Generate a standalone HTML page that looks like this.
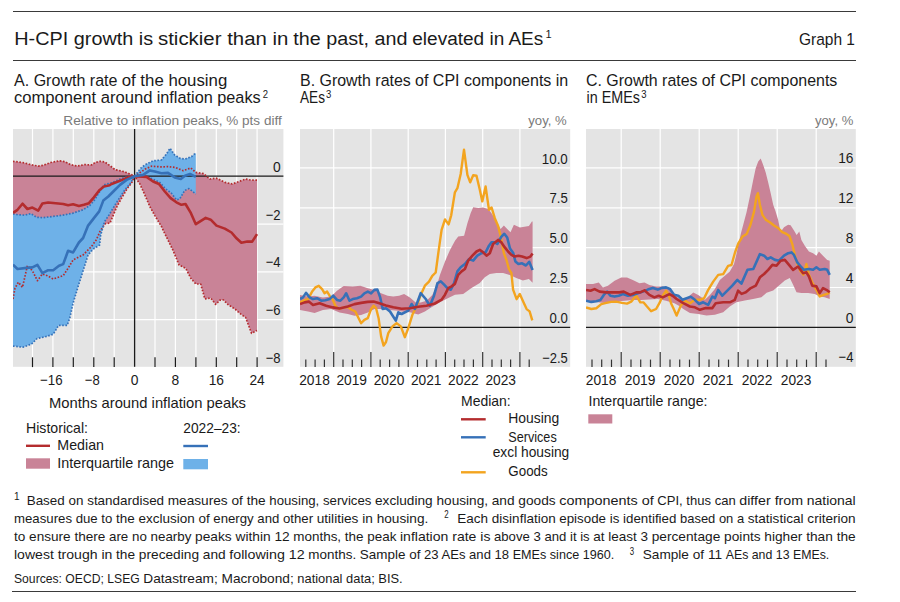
<!DOCTYPE html>
<html lang="en"><head><meta charset="utf-8"><title>Graph 1</title>
<style>html,body{margin:0;padding:0;background:#fff}svg{display:block}text{font-family:"Liberation Sans", sans-serif}</style>
</head><body>
<svg width="900" height="602" viewBox="0 0 900 602">
<rect width="900" height="602" fill="#fff"/>
<line x1="13.0" y1="11.5" x2="856.0" y2="11.5" stroke="#3a3a3a" stroke-width="1.0"/>
<line x1="13.0" y1="60.5" x2="856.0" y2="60.5" stroke="#3a3a3a" stroke-width="1.0"/>
<line x1="12.0" y1="591.5" x2="856.0" y2="591.5" stroke="#3a3a3a" stroke-width="1.0"/>
<text x="14.3" y="44.9" font-size="18.8" fill="#1a1a1a" textLength="138.8" lengthAdjust="spacingAndGlyphs">H-CPI growth is</text>
<text x="158.0" y="44.9" font-size="18.8" fill="#1a1a1a" textLength="130.4" lengthAdjust="spacingAndGlyphs">stickier than in</text>
<text x="293.3" y="44.9" font-size="18.8" fill="#1a1a1a" textLength="114.1" lengthAdjust="spacingAndGlyphs">the past, and</text>
<text x="412.3" y="44.9" font-size="18.8" fill="#1a1a1a" textLength="131.0" lengthAdjust="spacingAndGlyphs">elevated in AEs</text>
<text x="545.6" y="38.3" font-size="11" fill="#1a1a1a">1</text>
<text x="799.0" y="45.3" font-size="16.3" fill="#1a1a1a" textLength="56.0" lengthAdjust="spacingAndGlyphs">Graph 1</text>
<text x="14.0" y="85.6" font-size="16.3" fill="#1a1a1a" textLength="103.5" lengthAdjust="spacingAndGlyphs">A. Growth rate</text>
<text x="121.7" y="85.6" font-size="16.3" fill="#1a1a1a" textLength="105.6" lengthAdjust="spacingAndGlyphs">of the housing</text>
<text x="14.0" y="103.3" font-size="16.3" fill="#1a1a1a" textLength="138.5" lengthAdjust="spacingAndGlyphs">component around</text>
<text x="156.7" y="103.3" font-size="16.3" fill="#1a1a1a" textLength="104.0" lengthAdjust="spacingAndGlyphs">inflation peaks</text>
<text x="262.8" y="97.8" font-size="10.8" fill="#1a1a1a" textLength="5.3" lengthAdjust="spacingAndGlyphs">2</text>
<text x="300.0" y="85.6" font-size="16.3" fill="#1a1a1a" textLength="110.8" lengthAdjust="spacingAndGlyphs">B. Growth rates</text>
<text x="415.0" y="85.6" font-size="16.3" fill="#1a1a1a" textLength="153.3" lengthAdjust="spacingAndGlyphs">of CPI components in</text>
<text x="300.0" y="103.3" font-size="16.3" fill="#1a1a1a" textLength="25.0" lengthAdjust="spacingAndGlyphs">AEs</text>
<text x="326.0" y="97.8" font-size="10.8" fill="#1a1a1a" textLength="5.3" lengthAdjust="spacingAndGlyphs">3</text>
<text x="586.0" y="85.6" font-size="16.3" fill="#1a1a1a" textLength="111.5" lengthAdjust="spacingAndGlyphs">C. Growth rates</text>
<text x="701.7" y="85.6" font-size="16.3" fill="#1a1a1a" textLength="135.6" lengthAdjust="spacingAndGlyphs">of CPI components</text>
<text x="586.5" y="103.3" font-size="16.3" fill="#1a1a1a" textLength="53.5" lengthAdjust="spacingAndGlyphs">in EMEs</text>
<text x="641.3" y="97.8" font-size="10.8" fill="#1a1a1a" textLength="5.3" lengthAdjust="spacingAndGlyphs">3</text>
<text x="63.3" y="124.8" font-size="13" fill="#7a7a7a" textLength="115.9" lengthAdjust="spacingAndGlyphs">Relative to inflation</text>
<text x="182.7" y="124.8" font-size="13" fill="#7a7a7a" textLength="99.0" lengthAdjust="spacingAndGlyphs">peaks, % pts diff</text>
<text x="528.3" y="124.8" font-size="13" fill="#7a7a7a" textLength="38.4" lengthAdjust="spacingAndGlyphs">yoy, %</text>
<text x="815.0" y="124.8" font-size="13" fill="#7a7a7a" textLength="38.3" lengthAdjust="spacingAndGlyphs">yoy, %</text>
<rect x="13.0" y="129.0" width="270.4" height="237.8" fill="#e4e4e4"/>
<line x1="32.5" y1="129.0" x2="32.5" y2="366.8" stroke="#fff" stroke-width="1.2"/>
<line x1="52.9" y1="129.0" x2="52.9" y2="366.8" stroke="#fff" stroke-width="1.2"/>
<line x1="73.3" y1="129.0" x2="73.3" y2="366.8" stroke="#fff" stroke-width="1.2"/>
<line x1="93.8" y1="129.0" x2="93.8" y2="366.8" stroke="#fff" stroke-width="1.2"/>
<line x1="114.2" y1="129.0" x2="114.2" y2="366.8" stroke="#fff" stroke-width="1.2"/>
<line x1="155.0" y1="129.0" x2="155.0" y2="366.8" stroke="#fff" stroke-width="1.2"/>
<line x1="175.4" y1="129.0" x2="175.4" y2="366.8" stroke="#fff" stroke-width="1.2"/>
<line x1="195.9" y1="129.0" x2="195.9" y2="366.8" stroke="#fff" stroke-width="1.2"/>
<line x1="216.3" y1="129.0" x2="216.3" y2="366.8" stroke="#fff" stroke-width="1.2"/>
<line x1="236.7" y1="129.0" x2="236.7" y2="366.8" stroke="#fff" stroke-width="1.2"/>
<line x1="257.1" y1="129.0" x2="257.1" y2="366.8" stroke="#fff" stroke-width="1.2"/>
<line x1="13.0" y1="224.1" x2="283.4" y2="224.1" stroke="#fff" stroke-width="1.2"/>
<line x1="13.0" y1="271.8" x2="283.4" y2="271.8" stroke="#fff" stroke-width="1.2"/>
<line x1="13.0" y1="319.6" x2="283.4" y2="319.6" stroke="#fff" stroke-width="1.2"/>
<clipPath id="ca"><rect x="13.0" y="129.0" width="270.4" height="237.8"/></clipPath><g clip-path="url(#ca)">
<polygon points="13.0,161.3 22.5,162.5 32.4,165.0 38.2,166.1 43.2,165.3 50.7,162.5 59.8,160.8 64.8,161.6 70.6,164.6 77.3,166.1 84.7,164.6 91.4,165.0 95.0,162.6 100.0,161.3 105.0,162.1 110.0,165.7 115.0,169.6 124.0,171.6 134.6,176.0 141.0,172.0 145.3,169.0 151.5,166.2 161.4,166.9 168.0,166.6 175.0,167.4 183.3,170.7 190.8,167.9 195.8,172.4 203.2,173.5 209.9,179.0 216.5,178.2 224.8,182.3 232.3,184.0 239.0,181.5 245.6,179.0 251.4,180.2 257.0,180.2 257.0,330.4 251.5,333.3 248.8,325.9 245.6,317.5 240.6,313.9 234.8,308.9 228.2,304.7 223.2,299.8 219.9,300.2 215.7,304.4 210.7,298.1 204.9,298.9 200.7,284.0 195.8,284.0 190.8,278.2 185.8,268.4 179.2,265.1 172.5,249.2 164.6,233.2 161.4,226.4 154.8,215.6 149.8,206.4 144.8,194.8 139.9,184.0 134.6,176.2 131.5,183.2 127.4,188.2 121.6,198.1 116.6,207.3 110.0,223.0 105.0,223.9 100.0,231.4 96.4,239.7 91.4,246.6 83.1,254.9 73.1,259.9 68.1,268.2 63.2,275.7 53.2,279.0 47.4,275.7 42.4,274.0 37.4,280.7 32.4,270.7 27.4,265.7 22.5,287.3 18.3,282.3 15.0,288.2 13.0,299.0" fill="#c98397"/>
<polygon points="13.0,214.0 18.3,214.8 25.0,215.1 30.8,213.6 36.6,217.3 43.2,217.6 53.2,216.4 63.2,215.1 73.1,213.1 83.1,209.8 89.7,205.6 94.7,199.8 99.7,191.5 103.9,184.9 109.7,183.2 111.6,182.9 120.0,179.0 128.2,176.6 134.6,176.2 141.5,167.4 146.5,164.0 153.1,160.8 161.4,160.0 166.4,154.1 170.0,148.3 174.7,155.0 180.0,158.3 185.0,159.1 191.6,156.6 195.8,152.9 195.8,194.0 188.9,188.6 184.7,190.5 179.7,199.0 176.4,199.8 171.4,193.2 164.8,188.2 159.8,182.4 151.5,178.5 144.8,176.4 134.6,176.2 129.9,184.0 124.9,189.8 118.3,199.8 111.6,210.6 109.7,214.0 104.7,221.4 102.2,229.7 100.5,236.0 99.7,245.0 93.1,249.1 88.1,254.9 83.1,270.7 78.1,286.5 73.1,303.1 69.8,318.0 67.2,325.4 58.6,325.4 53.2,334.2 46.7,336.4 37.0,338.6 31.6,344.0 23.0,347.2 13.0,346.1" fill="#6eb1e8"/>
</g>
<line x1="13.0" y1="176.2" x2="283.4" y2="176.2" stroke="#1a1a1a" stroke-width="1.3"/>
<line x1="134.6" y1="129.0" x2="134.6" y2="366.8" stroke="#1a1a1a" stroke-width="1.3"/>
<g clip-path="url(#ca)">
<polyline points="13.0,161.3 22.5,162.5 32.4,165.0 38.2,166.1 43.2,165.3 50.7,162.5 59.8,160.8 64.8,161.6 70.6,164.6 77.3,166.1 84.7,164.6 91.4,165.0 95.0,162.6 100.0,161.3 105.0,162.1 110.0,165.7 115.0,169.6 124.0,171.6 134.6,176.0 141.0,172.0 145.3,169.0 151.5,166.2 161.4,166.9 168.0,166.6 175.0,167.4 183.3,170.7 190.8,167.9 195.8,172.4 203.2,173.5 209.9,179.0 216.5,178.2 224.8,182.3 232.3,184.0 239.0,181.5 245.6,179.0 251.4,180.2 257.0,180.2" fill="none" stroke="#b42c2e" stroke-width="1.7" stroke-linejoin="round" stroke-linecap="butt" stroke-dasharray="1.6 1.6"/>
<polyline points="13.0,299.0 15.0,288.2 18.3,282.3 22.5,287.3 27.4,265.7 32.4,270.7 37.4,280.7 42.4,274.0 47.4,275.7 53.2,279.0 63.2,275.7 68.1,268.2 73.1,259.9 83.1,254.9 91.4,246.6 96.4,239.7 100.0,231.4 105.0,223.9 110.0,223.0 116.6,207.3 121.6,198.1 127.4,188.2 131.5,183.2 134.6,176.2 139.9,184.0 144.8,194.8 149.8,206.4 154.8,215.6 161.4,226.4 164.6,233.2 172.5,249.2 179.2,265.1 185.8,268.4 190.8,278.2 195.8,284.0 200.7,284.0 204.9,298.9 210.7,298.1 215.7,304.4 219.9,300.2 223.2,299.8 228.2,304.7 234.8,308.9 240.6,313.9 245.6,317.5 248.8,325.9 251.5,333.3 257.0,330.4" fill="none" stroke="#b42c2e" stroke-width="1.7" stroke-linejoin="round" stroke-linecap="butt" stroke-dasharray="1.6 1.6"/>
<polyline points="13.0,214.0 18.3,214.8 25.0,215.1 30.8,213.6 36.6,217.3 43.2,217.6 53.2,216.4 63.2,215.1 73.1,213.1 83.1,209.8 89.7,205.6 94.7,199.8 99.7,191.5 103.9,184.9 109.7,183.2 111.6,182.9 120.0,179.0 128.2,176.6 134.6,176.2 141.5,167.4 146.5,164.0 153.1,160.8 161.4,160.0 166.4,154.1 170.0,148.3 174.7,155.0 180.0,158.3 185.0,159.1 191.6,156.6 195.8,152.9" fill="none" stroke="#3671b8" stroke-width="1.7" stroke-linejoin="round" stroke-linecap="butt" stroke-dasharray="1.6 1.6"/>
<polyline points="13.0,346.1 23.0,347.2 31.6,344.0 37.0,338.6 46.7,336.4 53.2,334.2 58.6,325.4 67.2,325.4 69.8,318.0 73.1,303.1 78.1,286.5 83.1,270.7 88.1,254.9 93.1,249.1 99.7,245.0 100.5,236.0 102.2,229.7 104.7,221.4 109.7,214.0 111.6,210.6 118.3,199.8 124.9,189.8 129.9,184.0 134.6,176.2 144.8,176.4 151.5,178.5 159.8,182.4 164.8,188.2 171.4,193.2 176.4,199.8 179.7,199.0 184.7,190.5 188.9,188.6 195.8,194.0" fill="none" stroke="#3671b8" stroke-width="1.7" stroke-linejoin="round" stroke-linecap="butt" stroke-dasharray="1.6 1.6"/>
<polyline points="13.0,212.8 17.5,209.8 22.5,203.7 27.4,209.0 32.4,207.6 38.2,210.6 42.4,203.5 48.2,202.5 58.2,203.5 63.2,204.0 68.1,205.3 73.1,204.3 78.9,206.0 83.9,204.8 88.9,203.2 93.9,197.3 99.7,189.9 103.9,186.5 109.7,185.2 111.6,184.0 120.0,180.7 128.2,177.4 134.6,176.2 146.5,176.9 153.1,181.5 159.0,184.0 164.8,191.5 170.6,198.1 176.4,202.3 181.4,204.8 185.5,204.0 190.5,212.3 195.8,224.2 205.7,217.9 210.7,219.7 216.5,225.6 224.8,228.6 231.5,232.5 236.5,238.3 241.4,242.8 247.3,241.6 252.2,241.6 257.0,234.1" fill="none" stroke="#b42c2e" stroke-width="2.6" stroke-linejoin="round" stroke-linecap="butt"/>
<polyline points="13.0,264.6 17.5,269.0 26.6,267.9 32.4,267.4 37.4,264.9 42.4,273.2 48.2,270.2 53.2,270.2 59.0,265.7 63.2,264.1 68.1,250.8 73.1,252.4 78.9,242.5 83.1,238.0 88.1,225.6 93.9,218.1 99.2,211.4 103.3,200.6 108.3,196.5 113.3,191.5 120.0,184.9 126.6,179.9 134.6,176.2 143.2,174.9 149.8,170.4 154.8,171.6 161.4,173.2 168.0,172.9 174.7,177.4 180.8,179.0 185.0,175.7 190.0,174.0 195.8,176.9" fill="none" stroke="#3671b8" stroke-width="2.6" stroke-linejoin="round" stroke-linecap="butt"/>
</g>
<line x1="32.5" y1="357.3" x2="32.5" y2="367.1" stroke="#1a1a1a" stroke-width="1.2"/>
<line x1="52.9" y1="357.3" x2="52.9" y2="367.1" stroke="#1a1a1a" stroke-width="1.2"/>
<line x1="73.3" y1="357.3" x2="73.3" y2="367.1" stroke="#1a1a1a" stroke-width="1.2"/>
<line x1="93.8" y1="357.3" x2="93.8" y2="367.1" stroke="#1a1a1a" stroke-width="1.2"/>
<line x1="114.2" y1="357.3" x2="114.2" y2="367.1" stroke="#1a1a1a" stroke-width="1.2"/>
<line x1="155.0" y1="357.3" x2="155.0" y2="367.1" stroke="#1a1a1a" stroke-width="1.2"/>
<line x1="175.4" y1="357.3" x2="175.4" y2="367.1" stroke="#1a1a1a" stroke-width="1.2"/>
<line x1="195.9" y1="357.3" x2="195.9" y2="367.1" stroke="#1a1a1a" stroke-width="1.2"/>
<line x1="216.3" y1="357.3" x2="216.3" y2="367.1" stroke="#1a1a1a" stroke-width="1.2"/>
<line x1="236.7" y1="357.3" x2="236.7" y2="367.1" stroke="#1a1a1a" stroke-width="1.2"/>
<line x1="257.1" y1="357.3" x2="257.1" y2="367.1" stroke="#1a1a1a" stroke-width="1.2"/>
<text x="280.6" y="171.5" font-size="15" fill="#1a1a1a" text-anchor="end" textLength="7.7" lengthAdjust="spacingAndGlyphs">0</text>
<text x="280.6" y="219.7" font-size="15" fill="#1a1a1a" text-anchor="end" textLength="14.9" lengthAdjust="spacingAndGlyphs">−2</text>
<text x="280.6" y="267.4" font-size="15" fill="#1a1a1a" text-anchor="end" textLength="14.9" lengthAdjust="spacingAndGlyphs">−4</text>
<text x="280.6" y="315.2" font-size="15" fill="#1a1a1a" text-anchor="end" textLength="14.9" lengthAdjust="spacingAndGlyphs">−6</text>
<text x="280.6" y="362.5" font-size="15" fill="#1a1a1a" text-anchor="end" textLength="14.9" lengthAdjust="spacingAndGlyphs">−8</text>
<text x="51.4" y="384.8" font-size="15" fill="#1a1a1a" text-anchor="middle" textLength="22.6" lengthAdjust="spacingAndGlyphs">−16</text>
<text x="92.3" y="384.8" font-size="15" fill="#1a1a1a" text-anchor="middle" textLength="14.9" lengthAdjust="spacingAndGlyphs">−8</text>
<text x="134.6" y="384.8" font-size="15" fill="#1a1a1a" text-anchor="middle" textLength="7.7" lengthAdjust="spacingAndGlyphs">0</text>
<text x="175.4" y="384.8" font-size="15" fill="#1a1a1a" text-anchor="middle" textLength="7.7" lengthAdjust="spacingAndGlyphs">8</text>
<text x="216.3" y="384.8" font-size="15" fill="#1a1a1a" text-anchor="middle" textLength="15.3" lengthAdjust="spacingAndGlyphs">16</text>
<text x="257.1" y="384.8" font-size="15" fill="#1a1a1a" text-anchor="middle" textLength="15.3" lengthAdjust="spacingAndGlyphs">24</text>
<text x="49.0" y="407.8" font-size="14.4" fill="#1a1a1a" textLength="197.0" lengthAdjust="spacingAndGlyphs">Months around inflation peaks</text>
<text x="26.0" y="432.7" font-size="14.4" fill="#1a1a1a" textLength="62.0" lengthAdjust="spacingAndGlyphs">Historical:</text>
<text x="183.3" y="432.7" font-size="14.4" fill="#1a1a1a" textLength="57.4" lengthAdjust="spacingAndGlyphs">2022–23:</text>
<line x1="26.0" y1="445.8" x2="50.0" y2="445.8" stroke="#b42c2e" stroke-width="2.4"/>
<text x="57.3" y="450.0" font-size="14.4" fill="#1a1a1a" textLength="46.7" lengthAdjust="spacingAndGlyphs">Median</text>
<rect x="26" y="458.3" width="24" height="10.4" fill="#c98397"/>
<text x="57.3" y="467.7" font-size="14.4" fill="#1a1a1a" textLength="116.7" lengthAdjust="spacingAndGlyphs">Interquartile range</text>
<line x1="183.3" y1="446.0" x2="208.0" y2="446.0" stroke="#3671b8" stroke-width="2.4"/>
<rect x="183.3" y="459" width="24.7" height="10.3" fill="#6eb1e8"/>
<rect x="300" y="129.0" width="270.2" height="237.8" fill="#e4e4e4"/>
<line x1="333.7" y1="129.0" x2="333.7" y2="366.8" stroke="#fff" stroke-width="1.2"/>
<line x1="370.9" y1="129.0" x2="370.9" y2="366.8" stroke="#fff" stroke-width="1.2"/>
<line x1="408.2" y1="129.0" x2="408.2" y2="366.8" stroke="#fff" stroke-width="1.2"/>
<line x1="445.4" y1="129.0" x2="445.4" y2="366.8" stroke="#fff" stroke-width="1.2"/>
<line x1="482.7" y1="129.0" x2="482.7" y2="366.8" stroke="#fff" stroke-width="1.2"/>
<line x1="519.9" y1="129.0" x2="519.9" y2="366.8" stroke="#fff" stroke-width="1.2"/>
<line x1="300.0" y1="167.9" x2="570.2" y2="167.9" stroke="#fff" stroke-width="1.2"/>
<line x1="300.0" y1="207.8" x2="570.2" y2="207.8" stroke="#fff" stroke-width="1.2"/>
<line x1="300.0" y1="247.7" x2="570.2" y2="247.7" stroke="#fff" stroke-width="1.2"/>
<line x1="300.0" y1="287.5" x2="570.2" y2="287.5" stroke="#fff" stroke-width="1.2"/>
<clipPath id="cb"><rect x="300" y="129.0" width="270.2" height="237.8"/></clipPath><g clip-path="url(#cb)">
<polygon points="300.0,294.9 308.0,296.6 314.6,295.7 322.9,297.4 331.2,296.6 337.0,290.8 343.7,286.1 352.8,286.6 360.3,285.8 367.8,288.3 374.4,289.9 381.1,293.3 387.7,295.7 393.3,296.5 399.1,295.7 404.1,294.1 409.9,297.4 415.7,302.4 420.7,302.4 426.5,300.7 432.3,294.9 436.5,286.6 440.0,274.8 445.0,261.5 450.0,249.9 455.0,240.7 458.2,236.6 464.1,235.7 467.4,223.3 470.7,213.1 473.2,207.3 478.2,208.1 483.1,207.6 488.1,208.9 491.4,213.1 496.4,221.4 500.6,228.9 503.9,225.5 507.2,228.9 510.5,232.2 513.9,224.7 519.9,227.4 528.9,225.9 531.9,221.4 532.6,221.4 532.6,282.7 528.9,279.0 522.9,280.5 516.9,278.2 509.7,275.0 503.1,273.1 496.4,273.1 489.8,273.9 484.8,277.3 479.8,283.1 471.5,288.1 463.2,293.9 455.0,294.7 448.3,298.0 440.0,302.2 431.5,307.3 424.9,311.5 418.2,314.5 409.9,312.3 401.6,311.5 398.0,310.7 389.4,309.9 381.1,309.0 374.4,309.0 367.8,312.4 361.1,314.9 354.5,315.7 347.8,314.0 339.5,312.4 331.2,309.0 322.9,309.9 314.6,312.9 308.0,311.5 300.0,309.9" fill="#c98397"/>
</g>
<line x1="300.0" y1="327.4" x2="570.2" y2="327.4" stroke="#1a1a1a" stroke-width="1.2"/>
<g clip-path="url(#cb)">
<polyline points="300.0,302.4 303.8,300.7 308.0,299.1 312.1,291.6 315.4,287.4 318.8,285.8 322.1,289.1 324.6,293.3 327.1,291.6 329.6,295.7 332.9,299.9 335.4,305.7 337.5,308.0 339.5,308.5 343.5,307.6 347.8,306.8 351.2,309.5 355.3,311.5 358.6,318.2 361.1,323.2 364.4,319.8 367.8,318.2 371.1,309.0 373.6,305.7 376.1,308.2 378.6,318.2 381.1,336.4 383.6,345.6 386.0,342.0 388.3,333.1 392.5,326.4 396.6,323.1 400.8,326.4 404.9,337.2 408.3,328.1 412.4,314.8 416.6,306.5 420.7,294.9 424.9,285.7 429.0,281.6 432.3,275.8 435.7,272.5 438.3,253.2 441.6,229.9 445.0,219.4 448.6,224.4 451.2,215.3 454.9,192.3 457.4,188.2 460.7,174.0 464.0,149.6 467.4,174.9 470.2,182.3 473.2,175.2 476.5,175.7 479.8,189.8 482.3,201.4 485.6,186.5 489.0,209.8 491.6,207.5 494.8,218.2 498.1,226.0 500.6,236.0 503.9,253.2 506.4,259.8 508.9,269.0 511.4,273.1 513.1,289.7 516.6,299.2 519.8,294.0 523.6,302.4 526.6,309.1 529.6,311.4 532.3,320.4" fill="none" stroke="#f3a41f" stroke-width="2.4" stroke-linejoin="round" stroke-linecap="butt"/>
<polyline points="300.0,299.1 303.0,297.4 306.0,292.9 309.6,297.4 313.0,299.1 317.1,298.2 321.3,300.7 325.4,300.2 329.6,299.1 333.2,295.7 337.0,299.9 340.4,300.7 343.7,297.4 346.2,293.3 349.5,300.7 352.8,299.1 357.0,298.2 361.1,296.6 364.4,293.3 367.8,291.6 371.1,293.3 374.4,289.9 377.4,289.6 380.2,297.4 382.7,309.0 386.0,308.2 390.0,311.5 395.8,320.6 398.3,312.3 401.6,314.0 408.3,310.7 411.6,304.0 414.9,309.0 420.7,293.2 425.7,299.0 429.9,305.7 434.0,295.7 437.5,283.1 440.8,281.4 444.1,284.7 447.4,288.1 450.8,289.7 454.1,283.1 457.4,271.4 460.7,267.3 464.9,264.0 469.0,259.0 473.2,260.6 477.3,255.7 481.5,253.2 485.6,252.3 489.0,245.7 491.5,242.4 494.8,242.4 497.3,244.0 501.4,236.6 504.3,233.8 507.2,237.5 510.0,248.5 513.2,253.0 515.4,261.5 518.4,264.0 522.1,263.3 525.9,265.5 529.2,261.8 532.6,270.0" fill="none" stroke="#3671b8" stroke-width="2.6" stroke-linejoin="round" stroke-linecap="butt"/>
<polyline points="300.0,304.1 304.6,302.4 308.8,301.6 313.0,304.9 319.6,303.2 326.2,305.7 332.9,307.4 339.5,308.5 347.8,306.5 354.5,304.1 361.1,302.9 367.8,301.9 373.6,301.6 379.4,303.2 386.0,305.4 393.3,307.3 401.6,308.7 409.9,308.2 418.2,306.8 426.5,305.7 434.8,303.5 441.6,299.7 445.0,294.7 448.3,288.1 451.6,286.4 454.9,283.9 458.2,274.8 461.6,271.4 464.9,269.0 468.2,260.6 472.4,255.7 476.5,251.5 479.8,249.9 483.2,252.3 486.5,255.7 489.8,253.2 493.1,244.0 498.1,239.9 501.4,242.4 504.8,247.4 508.1,251.5 511.4,254.8 514.7,256.5 518.4,255.8 522.1,256.6 526.6,258.1 530.4,256.6 532.6,253.6" fill="none" stroke="#b42c2e" stroke-width="2.6" stroke-linejoin="round" stroke-linecap="butt"/>
</g>
<line x1="305.8" y1="359.6" x2="305.8" y2="367.0" stroke="#333" stroke-width="1.2"/>
<line x1="315.1" y1="359.6" x2="315.1" y2="367.0" stroke="#333" stroke-width="1.2"/>
<line x1="324.4" y1="359.6" x2="324.4" y2="367.0" stroke="#333" stroke-width="1.2"/>
<line x1="333.7" y1="352.0" x2="333.7" y2="367.0" stroke="#333" stroke-width="1.2"/>
<line x1="343.0" y1="359.6" x2="343.0" y2="367.0" stroke="#333" stroke-width="1.2"/>
<line x1="352.3" y1="359.6" x2="352.3" y2="367.0" stroke="#333" stroke-width="1.2"/>
<line x1="361.6" y1="359.6" x2="361.6" y2="367.0" stroke="#333" stroke-width="1.2"/>
<line x1="370.9" y1="352.0" x2="370.9" y2="367.0" stroke="#333" stroke-width="1.2"/>
<line x1="380.2" y1="359.6" x2="380.2" y2="367.0" stroke="#333" stroke-width="1.2"/>
<line x1="389.6" y1="359.6" x2="389.6" y2="367.0" stroke="#333" stroke-width="1.2"/>
<line x1="398.9" y1="359.6" x2="398.9" y2="367.0" stroke="#333" stroke-width="1.2"/>
<line x1="408.2" y1="352.0" x2="408.2" y2="367.0" stroke="#333" stroke-width="1.2"/>
<line x1="417.5" y1="359.6" x2="417.5" y2="367.0" stroke="#333" stroke-width="1.2"/>
<line x1="426.8" y1="359.6" x2="426.8" y2="367.0" stroke="#333" stroke-width="1.2"/>
<line x1="436.1" y1="359.6" x2="436.1" y2="367.0" stroke="#333" stroke-width="1.2"/>
<line x1="445.4" y1="352.0" x2="445.4" y2="367.0" stroke="#333" stroke-width="1.2"/>
<line x1="454.7" y1="359.6" x2="454.7" y2="367.0" stroke="#333" stroke-width="1.2"/>
<line x1="464.0" y1="359.6" x2="464.0" y2="367.0" stroke="#333" stroke-width="1.2"/>
<line x1="473.4" y1="359.6" x2="473.4" y2="367.0" stroke="#333" stroke-width="1.2"/>
<line x1="482.7" y1="352.0" x2="482.7" y2="367.0" stroke="#333" stroke-width="1.2"/>
<line x1="492.0" y1="359.6" x2="492.0" y2="367.0" stroke="#333" stroke-width="1.2"/>
<line x1="501.3" y1="359.6" x2="501.3" y2="367.0" stroke="#333" stroke-width="1.2"/>
<line x1="510.6" y1="359.6" x2="510.6" y2="367.0" stroke="#333" stroke-width="1.2"/>
<line x1="519.9" y1="352.0" x2="519.9" y2="367.0" stroke="#333" stroke-width="1.2"/>
<line x1="529.2" y1="359.6" x2="529.2" y2="367.0" stroke="#333" stroke-width="1.2"/>
<text x="567.8" y="163.5" font-size="15" fill="#1a1a1a" text-anchor="end" textLength="26.0" lengthAdjust="spacingAndGlyphs">10.0</text>
<text x="567.8" y="203.4" font-size="15" fill="#1a1a1a" text-anchor="end" textLength="18.3" lengthAdjust="spacingAndGlyphs">7.5</text>
<text x="567.8" y="243.3" font-size="15" fill="#1a1a1a" text-anchor="end" textLength="18.3" lengthAdjust="spacingAndGlyphs">5.0</text>
<text x="567.8" y="283.2" font-size="15" fill="#1a1a1a" text-anchor="end" textLength="18.3" lengthAdjust="spacingAndGlyphs">2.5</text>
<text x="567.8" y="322.8" font-size="15" fill="#1a1a1a" text-anchor="end" textLength="18.3" lengthAdjust="spacingAndGlyphs">0.0</text>
<text x="567.8" y="362.5" font-size="15" fill="#1a1a1a" text-anchor="end" textLength="25.6" lengthAdjust="spacingAndGlyphs">−2.5</text>
<text x="314.5" y="384.8" font-size="15" fill="#1a1a1a" text-anchor="middle" textLength="30.6" lengthAdjust="spacingAndGlyphs">2018</text>
<text x="351.7" y="384.8" font-size="15" fill="#1a1a1a" text-anchor="middle" textLength="30.6" lengthAdjust="spacingAndGlyphs">2019</text>
<text x="389.0" y="384.8" font-size="15" fill="#1a1a1a" text-anchor="middle" textLength="30.6" lengthAdjust="spacingAndGlyphs">2020</text>
<text x="426.2" y="384.8" font-size="15" fill="#1a1a1a" text-anchor="middle" textLength="30.6" lengthAdjust="spacingAndGlyphs">2021</text>
<text x="463.4" y="384.8" font-size="15" fill="#1a1a1a" text-anchor="middle" textLength="30.6" lengthAdjust="spacingAndGlyphs">2022</text>
<text x="500.7" y="384.8" font-size="15" fill="#1a1a1a" text-anchor="middle" textLength="30.6" lengthAdjust="spacingAndGlyphs">2023</text>
<rect x="586" y="129.0" width="269.8" height="237.8" fill="#e4e4e4"/>
<line x1="621.2" y1="129.0" x2="621.2" y2="366.8" stroke="#fff" stroke-width="1.2"/>
<line x1="660.2" y1="129.0" x2="660.2" y2="366.8" stroke="#fff" stroke-width="1.2"/>
<line x1="699.2" y1="129.0" x2="699.2" y2="366.8" stroke="#fff" stroke-width="1.2"/>
<line x1="738.2" y1="129.0" x2="738.2" y2="366.8" stroke="#fff" stroke-width="1.2"/>
<line x1="777.2" y1="129.0" x2="777.2" y2="366.8" stroke="#fff" stroke-width="1.2"/>
<line x1="816.2" y1="129.0" x2="816.2" y2="366.8" stroke="#fff" stroke-width="1.2"/>
<line x1="586.0" y1="167.9" x2="855.8" y2="167.9" stroke="#fff" stroke-width="1.2"/>
<line x1="586.0" y1="207.8" x2="855.8" y2="207.8" stroke="#fff" stroke-width="1.2"/>
<line x1="586.0" y1="247.7" x2="855.8" y2="247.7" stroke="#fff" stroke-width="1.2"/>
<line x1="586.0" y1="287.5" x2="855.8" y2="287.5" stroke="#fff" stroke-width="1.2"/>
<clipPath id="cc"><rect x="586" y="129.0" width="269.8" height="237.8"/></clipPath><g clip-path="url(#cc)">
<polygon points="586.0,284.1 593.0,284.1 598.8,282.5 602.9,287.4 607.9,285.8 614.6,280.8 621.2,277.5 627.0,277.5 632.8,280.0 639.5,283.3 644.5,282.5 649.4,284.9 656.1,286.6 662.7,286.6 669.4,289.1 676.6,296.5 681.6,299.8 686.6,298.2 693.3,292.4 698.2,294.9 704.9,299.8 709.9,294.9 714.9,289.0 719.8,279.9 724.8,275.7 729.8,271.6 734.0,264.1 736.0,256.0 738.5,244.0 741.0,233.0 743.3,224.5 746.6,212.0 749.9,196.5 753.2,179.9 755.7,168.2 758.2,161.6 760.7,158.6 763.2,164.9 765.7,172.4 768.2,182.4 770.7,193.2 773.2,204.8 775.6,211.4 778.1,219.7 780.6,232.0 784.0,227.2 788.1,224.7 790.6,225.2 794.0,230.6 796.6,235.0 799.3,231.5 801.4,239.9 804.8,245.7 808.9,251.6 813.1,253.2 816.4,255.7 818.9,251.6 823.0,255.7 827.2,259.9 829.7,260.7 829.7,298.9 824.7,297.2 819.7,296.4 814.7,293.9 808.1,293.1 801.4,293.1 796.5,292.3 793.1,284.8 789.8,278.1 784.8,280.6 779.9,284.8 773.2,290.6 766.6,292.8 761.4,297.2 753.1,298.9 744.8,300.4 736.4,302.3 729.8,306.5 723.2,312.3 714.9,314.8 706.5,315.6 698.2,313.9 689.9,313.1 683.3,309.0 679.3,306.0 674.4,303.2 666.1,300.7 657.8,299.1 649.4,299.6 641.1,299.9 632.8,299.9 624.5,300.7 616.2,301.6 607.9,303.2 599.6,302.4 593.0,301.6 586.0,300.7" fill="#c98397"/>
</g>
<line x1="586.0" y1="327.4" x2="855.8" y2="327.4" stroke="#1a1a1a" stroke-width="1.2"/>
<g clip-path="url(#cc)">
<polyline points="586.0,307.4 591.3,309.0 596.3,308.2 601.3,304.1 606.3,302.9 611.2,301.9 616.2,301.6 622.0,302.9 627.0,303.6 631.2,301.6 636.2,295.7 640.3,302.4 643.6,302.4 647.0,306.5 651.1,311.2 656.1,309.0 659.4,303.2 662.7,295.7 666.1,290.8 668.5,294.1 671.0,303.2 673.3,308.1 676.6,315.6 680.8,305.6 685.0,300.7 689.9,303.2 694.9,299.8 699.9,299.8 704.1,298.2 708.2,289.9 713.2,281.6 718.2,274.9 723.2,274.1 728.1,265.8 731.5,265.0 735.0,252.5 738.3,243.3 742.5,236.6 746.6,234.1 750.4,225.0 754.1,211.4 756.5,196.5 757.9,193.2 759.9,204.8 762.4,214.8 765.7,219.7 769.8,222.2 774.0,225.5 778.1,228.0 782.3,232.2 786.4,233.9 789.4,236.0 792.3,244.1 794.8,254.9 797.3,264.0 800.6,271.5 803.4,274.8 806.4,264.0 808.9,274.8 812.2,282.3 816.4,289.8 819.7,296.4 823.9,294.8 827.2,293.9 829.7,292.3" fill="none" stroke="#f3a41f" stroke-width="2.4" stroke-linejoin="round" stroke-linecap="butt"/>
<polyline points="586.0,300.7 591.3,301.9 596.3,301.2 600.4,299.9 603.8,294.9 607.1,291.6 610.4,295.7 614.6,296.6 618.7,295.7 622.9,294.1 627.9,295.7 632.8,294.9 637.8,293.3 642.8,291.6 647.8,289.6 652.8,287.9 657.8,289.6 661.9,287.9 666.1,287.4 670.0,289.0 674.2,294.9 678.3,295.7 682.5,299.8 686.6,298.2 690.8,296.8 694.9,299.8 699.1,304.0 703.2,302.3 708.2,304.8 712.4,296.5 714.9,298.2 718.2,289.9 722.3,295.7 727.3,290.7 732.3,285.7 737.3,279.9 741.4,283.6 747.5,269.8 753.3,269.0 759.9,254.1 764.1,255.7 767.4,259.0 770.7,257.4 774.9,259.9 779.0,260.7 784.0,255.7 788.2,253.2 791.5,252.4 794.0,254.9 797.3,262.4 800.6,266.5 803.9,269.8 808.9,269.0 813.1,269.8 816.4,267.3 819.7,269.8 824.7,269.0 827.2,269.8 829.7,274.8" fill="none" stroke="#3671b8" stroke-width="2.6" stroke-linejoin="round" stroke-linecap="butt"/>
<polyline points="586.0,289.9 590.5,290.8 594.6,289.1 599.6,291.6 606.3,292.4 612.9,292.4 619.5,292.4 623.7,291.6 630.3,294.9 636.2,292.4 640.3,292.4 644.5,290.3 649.4,294.9 654.4,297.4 658.6,295.7 662.7,297.4 669.4,294.1 673.0,296.0 676.6,299.0 683.3,303.2 689.9,306.5 694.9,307.3 699.9,309.8 705.7,308.1 712.4,308.1 715.7,303.2 723.2,302.3 729.8,302.3 734.8,299.8 738.1,290.7 741.6,293.9 745.8,292.3 750.8,288.1 755.8,285.6 759.9,277.3 764.1,274.0 768.2,269.8 772.4,264.9 776.5,265.7 780.7,260.7 784.8,259.9 789.0,264.9 793.1,269.8 798.1,266.5 803.1,273.2 806.4,272.3 808.9,276.5 812.2,285.6 816.4,286.4 819.7,293.1 823.0,288.1 826.4,289.8 829.7,292.3" fill="none" stroke="#b42c2e" stroke-width="2.6" stroke-linejoin="round" stroke-linecap="butt"/>
</g>
<line x1="592.0" y1="359.6" x2="592.0" y2="367.0" stroke="#333" stroke-width="1.2"/>
<line x1="601.7" y1="359.6" x2="601.7" y2="367.0" stroke="#333" stroke-width="1.2"/>
<line x1="611.5" y1="359.6" x2="611.5" y2="367.0" stroke="#333" stroke-width="1.2"/>
<line x1="621.2" y1="352.0" x2="621.2" y2="367.0" stroke="#333" stroke-width="1.2"/>
<line x1="631.0" y1="359.6" x2="631.0" y2="367.0" stroke="#333" stroke-width="1.2"/>
<line x1="640.7" y1="359.6" x2="640.7" y2="367.0" stroke="#333" stroke-width="1.2"/>
<line x1="650.5" y1="359.6" x2="650.5" y2="367.0" stroke="#333" stroke-width="1.2"/>
<line x1="660.2" y1="352.0" x2="660.2" y2="367.0" stroke="#333" stroke-width="1.2"/>
<line x1="670.0" y1="359.6" x2="670.0" y2="367.0" stroke="#333" stroke-width="1.2"/>
<line x1="679.7" y1="359.6" x2="679.7" y2="367.0" stroke="#333" stroke-width="1.2"/>
<line x1="689.5" y1="359.6" x2="689.5" y2="367.0" stroke="#333" stroke-width="1.2"/>
<line x1="699.2" y1="352.0" x2="699.2" y2="367.0" stroke="#333" stroke-width="1.2"/>
<line x1="709.0" y1="359.6" x2="709.0" y2="367.0" stroke="#333" stroke-width="1.2"/>
<line x1="718.7" y1="359.6" x2="718.7" y2="367.0" stroke="#333" stroke-width="1.2"/>
<line x1="728.5" y1="359.6" x2="728.5" y2="367.0" stroke="#333" stroke-width="1.2"/>
<line x1="738.2" y1="352.0" x2="738.2" y2="367.0" stroke="#333" stroke-width="1.2"/>
<line x1="748.0" y1="359.6" x2="748.0" y2="367.0" stroke="#333" stroke-width="1.2"/>
<line x1="757.7" y1="359.6" x2="757.7" y2="367.0" stroke="#333" stroke-width="1.2"/>
<line x1="767.5" y1="359.6" x2="767.5" y2="367.0" stroke="#333" stroke-width="1.2"/>
<line x1="777.2" y1="352.0" x2="777.2" y2="367.0" stroke="#333" stroke-width="1.2"/>
<line x1="787.0" y1="359.6" x2="787.0" y2="367.0" stroke="#333" stroke-width="1.2"/>
<line x1="796.7" y1="359.6" x2="796.7" y2="367.0" stroke="#333" stroke-width="1.2"/>
<line x1="806.5" y1="359.6" x2="806.5" y2="367.0" stroke="#333" stroke-width="1.2"/>
<line x1="816.2" y1="352.0" x2="816.2" y2="367.0" stroke="#333" stroke-width="1.2"/>
<line x1="826.0" y1="359.6" x2="826.0" y2="367.0" stroke="#333" stroke-width="1.2"/>
<text x="853.5" y="163.4" font-size="15" fill="#1a1a1a" text-anchor="end" textLength="15.3" lengthAdjust="spacingAndGlyphs">16</text>
<text x="853.5" y="203.3" font-size="15" fill="#1a1a1a" text-anchor="end" textLength="15.3" lengthAdjust="spacingAndGlyphs">12</text>
<text x="853.5" y="243.3" font-size="15" fill="#1a1a1a" text-anchor="end" textLength="7.7" lengthAdjust="spacingAndGlyphs">8</text>
<text x="853.5" y="283.2" font-size="15" fill="#1a1a1a" text-anchor="end" textLength="7.7" lengthAdjust="spacingAndGlyphs">4</text>
<text x="853.5" y="322.8" font-size="15" fill="#1a1a1a" text-anchor="end" textLength="7.7" lengthAdjust="spacingAndGlyphs">0</text>
<text x="853.5" y="362.3" font-size="15" fill="#1a1a1a" text-anchor="end" textLength="14.9" lengthAdjust="spacingAndGlyphs">−4</text>
<text x="601.1" y="384.8" font-size="15" fill="#1a1a1a" text-anchor="middle" textLength="30.6" lengthAdjust="spacingAndGlyphs">2018</text>
<text x="640.1" y="384.8" font-size="15" fill="#1a1a1a" text-anchor="middle" textLength="30.6" lengthAdjust="spacingAndGlyphs">2019</text>
<text x="679.1" y="384.8" font-size="15" fill="#1a1a1a" text-anchor="middle" textLength="30.6" lengthAdjust="spacingAndGlyphs">2020</text>
<text x="718.1" y="384.8" font-size="15" fill="#1a1a1a" text-anchor="middle" textLength="30.6" lengthAdjust="spacingAndGlyphs">2021</text>
<text x="757.1" y="384.8" font-size="15" fill="#1a1a1a" text-anchor="middle" textLength="30.6" lengthAdjust="spacingAndGlyphs">2022</text>
<text x="796.1" y="384.8" font-size="15" fill="#1a1a1a" text-anchor="middle" textLength="30.6" lengthAdjust="spacingAndGlyphs">2023</text>
<text x="461.0" y="405.7" font-size="14.4" fill="#1a1a1a" textLength="49.7" lengthAdjust="spacingAndGlyphs">Median:</text>
<line x1="461.0" y1="419.3" x2="485.7" y2="419.3" stroke="#b42c2e" stroke-width="2.4"/>
<text x="508.3" y="423.3" font-size="14.4" fill="#1a1a1a" textLength="51.0" lengthAdjust="spacingAndGlyphs">Housing</text>
<line x1="461.0" y1="437.3" x2="485.7" y2="437.3" stroke="#3671b8" stroke-width="2.4"/>
<text x="508.3" y="441.7" font-size="14.4" fill="#1a1a1a" textLength="48.4" lengthAdjust="spacingAndGlyphs">Services</text>
<text x="492.7" y="457.3" font-size="14.4" fill="#1a1a1a" textLength="76.6" lengthAdjust="spacingAndGlyphs">excl housing</text>
<line x1="461.0" y1="472.3" x2="485.7" y2="472.3" stroke="#f3a41f" stroke-width="2.4"/>
<text x="508.3" y="475.7" font-size="14.4" fill="#1a1a1a" textLength="39.4" lengthAdjust="spacingAndGlyphs">Goods</text>
<text x="588.5" y="405.7" font-size="14.4" fill="#1a1a1a" textLength="119.0" lengthAdjust="spacingAndGlyphs">Interquartile range:</text>
<rect x="588.3" y="414.3" width="24" height="9.2" fill="#c98397"/>
<text x="14.0" y="500.3" font-size="10" fill="#1a1a1a">1</text>
<text x="26.7" y="504.6" font-size="12.9" fill="#1a1a1a" textLength="137.4" lengthAdjust="spacingAndGlyphs">Based on standardised</text>
<text x="167.7" y="504.6" font-size="12.9" fill="#1a1a1a" textLength="98.0" lengthAdjust="spacingAndGlyphs">measures of the</text>
<text x="269.3" y="504.6" font-size="12.9" fill="#1a1a1a" textLength="102.1" lengthAdjust="spacingAndGlyphs">housing, services</text>
<text x="375.0" y="504.6" font-size="12.9" fill="#1a1a1a" textLength="113.1" lengthAdjust="spacingAndGlyphs">excluding housing,</text>
<text x="491.7" y="504.6" font-size="12.9" fill="#1a1a1a" textLength="64.0" lengthAdjust="spacingAndGlyphs">and goods</text>
<text x="559.3" y="504.6" font-size="12.9" fill="#1a1a1a" textLength="94.4" lengthAdjust="spacingAndGlyphs">components of</text>
<text x="657.3" y="504.6" font-size="12.9" fill="#1a1a1a" textLength="78.4" lengthAdjust="spacingAndGlyphs">CPI, thus can</text>
<text x="739.3" y="504.6" font-size="12.9" fill="#1a1a1a" textLength="63.8" lengthAdjust="spacingAndGlyphs">differ from</text>
<text x="806.7" y="504.6" font-size="12.9" fill="#1a1a1a" textLength="49.0" lengthAdjust="spacingAndGlyphs">national</text>
<text x="14.0" y="522.5" font-size="12.9" fill="#1a1a1a" textLength="98.4" lengthAdjust="spacingAndGlyphs">measures due to</text>
<text x="116.0" y="522.5" font-size="12.9" fill="#1a1a1a" textLength="93.7" lengthAdjust="spacingAndGlyphs">the exclusion of</text>
<text x="213.3" y="522.5" font-size="12.9" fill="#1a1a1a" textLength="99.8" lengthAdjust="spacingAndGlyphs">energy and other</text>
<text x="316.7" y="522.5" font-size="12.9" fill="#1a1a1a" textLength="111.6" lengthAdjust="spacingAndGlyphs">utilities in housing.</text>
<text x="457.3" y="522.5" font-size="12.9" fill="#1a1a1a" textLength="98.4" lengthAdjust="spacingAndGlyphs">Each disinflation</text>
<text x="559.3" y="522.5" font-size="12.9" fill="#1a1a1a" textLength="117.1" lengthAdjust="spacingAndGlyphs">episode is identified</text>
<text x="680.0" y="522.5" font-size="12.9" fill="#1a1a1a" textLength="64.1" lengthAdjust="spacingAndGlyphs">based on a</text>
<text x="747.7" y="522.5" font-size="12.9" fill="#1a1a1a" textLength="108.0" lengthAdjust="spacingAndGlyphs">statistical criterion</text>
<text x="444.2" y="518.2" font-size="10.5" fill="#1a1a1a" textLength="4.4" lengthAdjust="spacingAndGlyphs">2</text>
<text x="14.0" y="540.6" font-size="12.9" fill="#1a1a1a" textLength="91.4" lengthAdjust="spacingAndGlyphs">to ensure there</text>
<text x="109.0" y="540.6" font-size="12.9" fill="#1a1a1a" textLength="82.4" lengthAdjust="spacingAndGlyphs">are no nearby</text>
<text x="195.0" y="540.6" font-size="12.9" fill="#1a1a1a" textLength="94.7" lengthAdjust="spacingAndGlyphs">peaks within 12</text>
<text x="293.3" y="540.6" font-size="12.9" fill="#1a1a1a" textLength="103.1" lengthAdjust="spacingAndGlyphs">months, the peak</text>
<text x="400.0" y="540.6" font-size="12.9" fill="#1a1a1a" textLength="90.4" lengthAdjust="spacingAndGlyphs">inflation rate is</text>
<text x="494.0" y="540.6" font-size="12.9" fill="#1a1a1a" textLength="95.7" lengthAdjust="spacingAndGlyphs">above 3 and it is</text>
<text x="593.3" y="540.6" font-size="12.9" fill="#1a1a1a" textLength="54.8" lengthAdjust="spacingAndGlyphs">at least 3</text>
<text x="651.7" y="540.6" font-size="12.9" fill="#1a1a1a" textLength="109.0" lengthAdjust="spacingAndGlyphs">percentage points</text>
<text x="764.3" y="540.6" font-size="12.9" fill="#1a1a1a" textLength="91.4" lengthAdjust="spacingAndGlyphs">higher than the</text>
<text x="14.0" y="558.8" font-size="12.9" fill="#1a1a1a" textLength="98.4" lengthAdjust="spacingAndGlyphs">lowest trough in</text>
<text x="116.0" y="558.8" font-size="12.9" fill="#1a1a1a" textLength="109.7" lengthAdjust="spacingAndGlyphs">the preceding and</text>
<text x="229.3" y="558.8" font-size="12.9" fill="#1a1a1a" textLength="75.4" lengthAdjust="spacingAndGlyphs">following 12</text>
<text x="308.3" y="558.8" font-size="12.9" fill="#1a1a1a" textLength="112.1" lengthAdjust="spacingAndGlyphs">months. Sample of</text>
<text x="424.0" y="558.8" font-size="12.9" fill="#1a1a1a" textLength="85.1" lengthAdjust="spacingAndGlyphs">23 AEs and 18</text>
<text x="512.7" y="558.8" font-size="12.9" fill="#1a1a1a" textLength="101.6" lengthAdjust="spacingAndGlyphs">EMEs since 1960.</text>
<text x="642.7" y="558.8" font-size="12.9" fill="#1a1a1a" textLength="79.4" lengthAdjust="spacingAndGlyphs">Sample of 11</text>
<text x="725.7" y="558.8" font-size="12.9" fill="#1a1a1a" textLength="103.6" lengthAdjust="spacingAndGlyphs">AEs and 13 EMEs.</text>
<text x="629.8" y="554.5" font-size="10.5" fill="#1a1a1a" textLength="4.4" lengthAdjust="spacingAndGlyphs">3</text>
<text x="14.0" y="582.8" font-size="12.9" fill="#1a1a1a" textLength="125.7" lengthAdjust="spacingAndGlyphs">Sources: OECD; LSEG</text>
<text x="143.3" y="582.8" font-size="12.9" fill="#1a1a1a" textLength="150.4" lengthAdjust="spacingAndGlyphs">Datastream; Macrobond;</text>
<text x="297.3" y="582.8" font-size="12.9" fill="#1a1a1a" textLength="105.4" lengthAdjust="spacingAndGlyphs">national data; BIS.</text>
</svg>
</body></html>
